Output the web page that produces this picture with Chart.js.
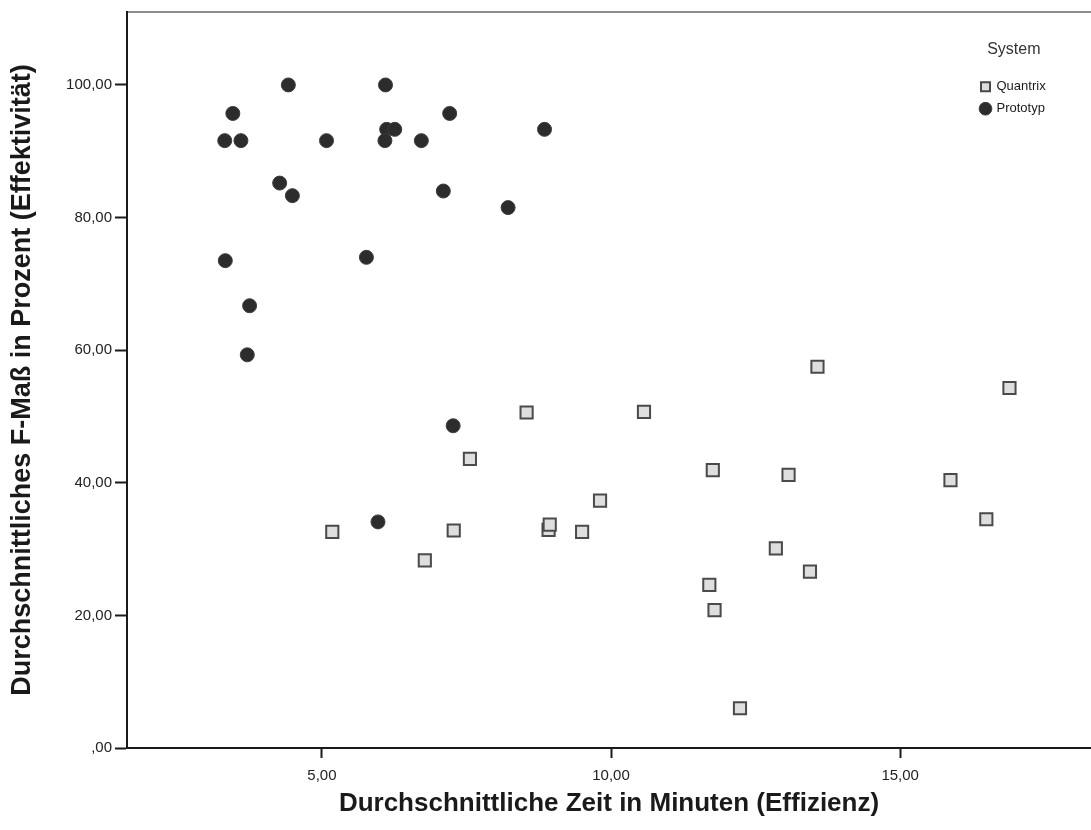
<!DOCTYPE html>
<html lang="de">
<head>
<meta charset="utf-8">
<title>Effizienz und Effektivität nach System</title>
<script src="https://cdn.jsdelivr.net/npm/chart.js@4/dist/chart.umd.min.js"></script>
<style>
  html, body { margin: 0; padding: 0; background: #ffffff; overflow: hidden; }
  #chart { display: block; }
</style>
</head>
<body>
<canvas id="chart" width="1091" height="830"></canvas>
<script>
// Durchschnittliche Zeit (Minuten) und F-Maß (%) je Versuchsperson
const quantrixZeit = [5.18, 6.78, 7.28, 7.56, 8.54, 8.92, 8.94, 9.50, 9.81, 10.57, 11.70,
                      11.76, 11.79, 12.23, 12.85, 13.07, 13.44, 13.57, 15.87, 16.49, 16.89];
const quantrixFMass = [32.6, 28.3, 32.8, 43.6, 50.6, 32.9, 33.7, 32.6, 37.3, 50.7, 24.6,
                       41.9, 20.8, 6.0, 30.1, 41.2, 26.6, 57.5, 40.4, 34.5, 54.3];

const prototypZeit = [3.32, 3.46, 3.60, 3.33, 3.75, 3.71, 4.27, 4.42, 4.49, 5.08, 5.77,
                      5.97, 6.10, 6.12, 6.26, 6.09, 6.72, 7.10, 7.21, 7.27, 8.22, 8.85];
const prototypFMass = [91.6, 95.7, 91.6, 73.5, 66.7, 59.3, 85.2, 100.0, 83.3, 91.6, 74.0,
                       34.1, 100.0, 93.3, 93.3, 91.6, 91.6, 84.0, 95.7, 48.6, 81.5, 93.3];

const systemNamen = ['Quantrix', 'Prototyp'];

const xTickWerte = [5, 10, 15];
const xTickTexte = ['5,00', '10,00', '15,00'];
const yTickWerte = [0, 20, 40, 60, 80, 100];
const yTickTexte = [',00', '20,00', '40,00', '60,00', '80,00', '100,00'];

const xTitel = 'Durchschnittliche Zeit in Minuten (Effizienz)';
const yTitel = 'Durchschnittliches F-Maß in Prozent (Effektivität)';
const legendenTitel = 'System';

function punkte(xs, ys) {
  return xs.map((x, i) => ({ x: x, y: ys[i] }));
}

const FONT = '"Liberation Sans", Arial, sans-serif';

// Legende oben rechts in die Zeichenfläche setzen
const legendePlatzieren = {
  id: 'legendePlatzieren',
  beforeDraw(chart) {
    const lg = chart.legend;
    if (!lg) return;
    const left = 972, top = 42;
    const w = lg.width, h = 90;
    lg.left = left; lg.right = left + w;
    lg.top = top; lg.bottom = top + h;
  }
};

function tickText(werte, texte) {
  return function (value) {
    const i = werte.indexOf(value);
    return i >= 0 ? texte[i] : '';
  };
}

Chart.defaults.font.family = FONT;

new Chart(document.getElementById('chart'), {
  type: 'scatter',
  data: {
    datasets: [
      {
        label: systemNamen[0],
        data: punkte(quantrixZeit, quantrixFMass),
        pointStyle: 'rect',
        pointRadius: 8.6,
        pointHoverRadius: 8.6,
        backgroundColor: '#dedede',
        borderColor: '#4a4a4a',
        borderWidth: 2
      },
      {
        label: systemNamen[1],
        data: punkte(prototypZeit, prototypFMass),
        pointStyle: 'circle',
        pointRadius: 7,
        pointHoverRadius: 7,
        backgroundColor: '#2c2c2c',
        borderColor: '#3c3c3c',
        borderWidth: 1
      }
    ]
  },
  options: {
    responsive: false,
    animation: false,
    devicePixelRatio: 1,
    layout: { autoPadding: false, padding: { top: 12, right: 0, bottom: 0, left: 0 } },
    events: [],
    plugins: {
      tooltip: { enabled: false },
      legend: {
        display: true,
        position: 'chartArea',
        align: 'start',
        title: {
          display: true,
          text: legendenTitel,
          color: '#333333',
          font: { size: 16, family: FONT },
          padding: { top: 0, bottom: 10 }
        },
        labels: {
          usePointStyle: true,
          boxWidth: 9,
          boxHeight: 9,
          padding: 9,
          color: '#1a1a1a',
          font: { size: 13, family: FONT }
        }
      }
    },
    scales: {
      x: {
        type: 'linear',
        position: 'bottom',
        min: 1.63,
        max: 18.3,
        afterBuildTicks: (s) => { s.ticks = xTickWerte.map(v => ({ value: v })); },
        afterFit: (s) => { s.height = 82; },
        ticks: {
          callback: tickText(xTickWerte, xTickTexte),
          color: '#222222',
          font: { size: 15, family: FONT },
          padding: 9,
          maxRotation: 0,
          autoSkip: false
        },
        grid: {
          display: true,
          drawOnChartArea: false,
          drawTicks: true,
          tickLength: 10,
          tickWidth: 2,
          tickColor: '#1a1a1a'
        },
        border: { display: true, color: '#1a1a1a', width: 2 },
        title: {
          display: true,
          text: xTitel,
          color: '#1a1a1a',
          font: { size: 26, weight: 'bold', family: FONT },
          padding: { top: 0, bottom: 11 }
        }
      },
      oben: {
        type: 'linear',
        position: 'top',
        min: 1.63,
        max: 18.3,
        afterFit: (s) => { s.height = 0; },
        ticks: { display: false },
        grid: { display: false, drawOnChartArea: false, drawTicks: false },
        border: { display: true, color: '#8c8c8c', width: 2 }
      },
      y: {
        type: 'linear',
        position: 'left',
        min: 0,
        max: 111,
        afterBuildTicks: (s) => { s.ticks = yTickWerte.map(v => ({ value: v })); },
        afterFit: (s) => { s.width = 127; },
        ticks: {
          callback: tickText(yTickWerte, yTickTexte),
          color: '#222222',
          font: { size: 15, family: FONT },
          padding: 3
        },
        grid: {
          display: true,
          drawOnChartArea: false,
          drawTicks: true,
          tickLength: 12,
          tickWidth: 2,
          tickColor: '#1a1a1a'
        },
        border: { display: true, color: '#1a1a1a', width: 2 },
        title: {
          display: true,
          text: yTitel,
          color: '#1a1a1a',
          font: { size: 27, weight: 'bold', family: FONT },
          padding: { top: 6, bottom: 0 }
        }
      }
    }
  },
  plugins: [legendePlatzieren]
});
</script>
</body>
</html>
